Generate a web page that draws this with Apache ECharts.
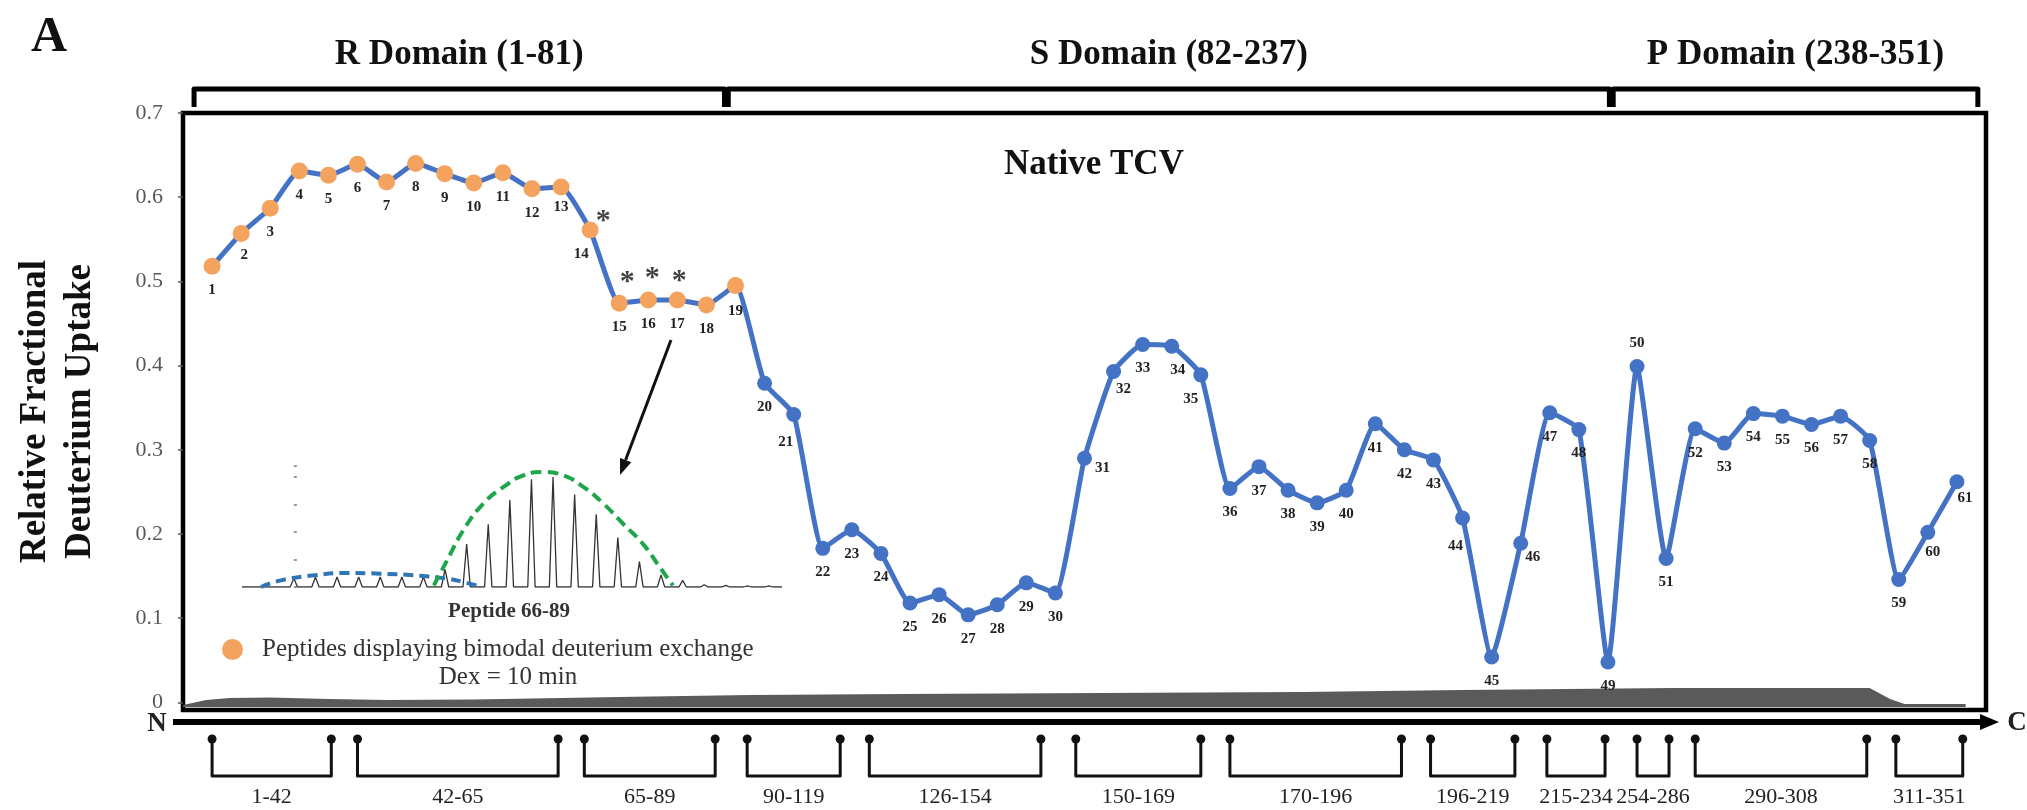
<!DOCTYPE html>
<html>
<head>
<meta charset="utf-8">
<script src="https://cdn.jsdelivr.net/npm/echarts@6/dist/echarts.min.js"></script>
<style>
  html, body { margin: 0; padding: 0; background: #fff; }
  #chart { width: 2027px; height: 810px; }
</style>
</head>
<body>
<div id="chart"></div>
<script>
// Peptide numbers along the sequence (N -> C)
const peptideIds = [1, 2, 3, 4, 5, 6, 7, 8, 9, 10, 11, 12, 13, 14, 15, 16, 17, 18, 19, 20,
  21, 22, 23, 24, 25, 26, 27, 28, 29, 30, 31, 32, 33, 34, 35, 36, 37, 38, 39, 40,
  41, 42, 43, 44, 45, 46, 47, 48, 49, 50, 51, 52, 53, 54, 55, 56, 57, 58, 59, 60, 61];

// Relative fractional deuterium uptake, Dex = 10 min
const uptake = [0.518, 0.557, 0.587, 0.631, 0.626, 0.639, 0.618, 0.640, 0.628, 0.617,
  0.629, 0.610, 0.612, 0.561, 0.474, 0.478, 0.478, 0.472, 0.495, 0.379,
  0.342, 0.183, 0.205, 0.177, 0.118, 0.128, 0.104, 0.116, 0.142, 0.130,
  0.290, 0.393, 0.425, 0.423, 0.389, 0.254, 0.280, 0.252, 0.237, 0.252,
  0.331, 0.300, 0.288, 0.219, 0.054, 0.189, 0.344, 0.324, 0.048, 0.399,
  0.171, 0.325, 0.308, 0.343, 0.340, 0.330, 0.340, 0.311, 0.146, 0.202, 0.262];

// Peptides with bimodal exchange, and those flagged with an asterisk
const bimodalIds = [1, 2, 3, 4, 5, 6, 7, 8, 9, 10, 11, 12, 13, 14, 15, 16, 17, 18, 19];
const flaggedIds = [14, 15, 16, 17];

const yTicks = [0, 0.1, 0.2, 0.3, 0.4, 0.5, 0.6, 0.7];

// Capsid domains, spans given on the peptide axis
const domainNames = ['R Domain (1-81)', 'S Domain (82-237)', 'P Domain (238-351)'];
const domainFrom = [0.38, 18.75, 49.18];
const domainTo = [18.62, 49.05, 61.72];

// Sequence fragments covered by the peptides, spans on the peptide axis
const fragmentNames = ['1-42', '42-65', '65-89', '90-119', '126-154', '150-169',
  '170-196', '196-219', '215-234', '254-286', '290-308', '311-351'];
const fragmentFrom = [1.0, 6.0, 13.8, 19.4, 23.6, 30.7, 36.0, 42.9, 46.9, 50.0, 52.0, 58.9];
const fragmentTo = [5.1, 12.9, 18.3, 22.6, 29.5, 35.0, 41.9, 45.8, 48.9, 51.1, 57.9, 61.2];

// Sequence coverage profile drawn along the bottom of the plot
const coveragePos = [0.0, 0.8, 1.6, 3.0, 5.0, 7.0, 10.0, 13.0, 15.0, 19.5, 24.7, 31.6,
  38.5, 44.0, 51.2, 58.0, 58.7, 59.2, 61.3];
const coverageDepth = [2, 7, 9, 9.5, 8, 7, 7.5, 9, 10, 12, 13, 14, 15, 17, 19, 19, 8, 3, 3];

// Isotopic distribution of peptide 66-89 (relative intensity, %)
const isotopePeaks = [8, 9, 9, 9, 9, 9, 9, 16, 39, 57, 79, 98, 100, 84, 66, 45, 23, 11, 6, 2, 1.5, 1, 1];
// Low-mass (slow exchanging) and high-mass (fast exchanging) envelopes
const lowEnvelopePos = [-1.52, -0.6, 0.94, 2.48, 4.01, 5.55, 7.09, 7.86, 8.71];
const lowEnvelopeVal = [0, 6, 10.6, 12.7, 12.1, 10.6, 7.6, 4.5, 0];
const highEnvelopePos = [6.48, 7.09, 7.86, 8.78, 9.71, 10.63, 11.55, 12.47, 13.4, 14.32, 15.24, 16.17, 16.94, 17.55];
const highEnvelopeVal = [1.5, 24, 52, 76, 91, 101.5, 104.5, 101.5, 91, 76, 57.5, 39, 18, 1.5];

const FONT = '"Liberation Serif", "Times New Roman", serif';
const BLUE = '#4472C4';
const ORANGE = '#F4A35E';

// label placement tweaks for crowded points
const labelNudge = {
  2: [3, -2], 13: [0, -4], 14: [-9, 0], 19: [0, 2], 21: [-8, 4], 31: [18, -14], 32: [10, -6],
  34: [6, 0], 35: [-10, 0], 44: [-7, 4], 46: [12, -10], 60: [5, -4], 61: [8, -8]
};
const asteriskNudge = { 14: [13, -9], 15: [8, -21], 16: [4, -22], 17: [2, -19] };

const lineData = peptideIds.map((id, i) => {
  const item = { value: [id, uptake[i]] };
  if (id === 50) item.label = { position: 'top', distance: 8 };
  else if (labelNudge[id]) item.label = { offset: labelNudge[id] };
  return item;
});

const spectrum = [[-2.4, 0]];
isotopePeaks.forEach((h, k) => { spectrum.push([k - 0.17, 0], [k, h], [k + 0.17, 0]); });
spectrum.push([22.6, 0]);

const chart = echarts.init(document.getElementById('chart'));

const option = {
  backgroundColor: '#fff',
  animation: false,
  grid: [
    { left: 183, right: 41, top: 113, bottom: 100, show: true, borderColor: '#000', borderWidth: 4.5, backgroundColor: 'transparent' },
    { left: 183, right: 41, top: 686, bottom: 103 },
    { left: 242, right: 1245, top: 466, bottom: 223 }
  ],
  legend: {
    data: ['Peptides displaying bimodal deuterium exchange'],
    left: 217, top: 632,
    icon: 'circle', itemWidth: 21, itemHeight: 21,
    selectedMode: false,
    textStyle: { fontFamily: FONT, fontSize: 25, color: '#333', padding: [0, 0, 0, 14] }
  },
  xAxis: [
    { gridIndex: 0, type: 'value', min: 0, max: 62, show: false },
    { gridIndex: 1, type: 'value', min: 0, max: 62, show: false },
    { gridIndex: 2, type: 'value', min: -2.4, max: 22.6, show: false }
  ],
  yAxis: [
    {
      gridIndex: 0, type: 'value', min: -0.009, max: 0.7,
      name: 'Relative Fractional\nDeuterium Uptake',
      nameLocation: 'middle', nameRotate: 90, nameGap: 80,
      nameTextStyle: { fontFamily: FONT, fontWeight: 'bold', fontSize: 37, lineHeight: 45, color: '#111' },
      axisLine: { show: false },
      splitLine: { show: false },
      axisTick: { show: true, length: 5, customValues: yTicks, lineStyle: { color: '#555', width: 1.5 } },
      axisLabel: {
        customValues: yTicks, margin: 20,
        formatter: v => (v === 0 ? '0' : v.toFixed(1)),
        fontFamily: FONT, fontSize: 22, color: '#595959'
      }
    },
    { gridIndex: 1, type: 'value', min: 0, max: 21, show: false },
    {
      gridIndex: 2, type: 'value', min: 0, max: 110, interval: 25,
      axisLine: { show: false }, axisLabel: { show: false }, splitLine: { show: false },
      axisTick: { show: true, inside: true, length: 3, lineStyle: { color: '#999', width: 2 } }
    }
  ],
  series: [
    {
      name: 'Sequence coverage', type: 'line', xAxisIndex: 1, yAxisIndex: 1,
      data: coveragePos.map((x, i) => [x, coverageDepth[i]]),
      symbol: 'none', lineStyle: { width: 0 }, areaStyle: { color: '#5a5a5a', opacity: 1 },
      silent: true, z: 1
    },
    {
      name: 'Native TCV', type: 'line', xAxisIndex: 0, yAxisIndex: 0,
      data: lineData,
      smooth: 0.15,
      symbol: 'circle', symbolSize: 15,
      lineStyle: { color: BLUE, width: 5 },
      itemStyle: { color: BLUE },
      label: {
        show: true, position: 'bottom', distance: 9,
        formatter: p => p.value[0],
        fontFamily: FONT, fontWeight: 'bold', fontSize: 15, color: '#222'
      },
      z: 3
    },
    {
      name: 'Peptides displaying bimodal deuterium exchange', type: 'scatter',
      xAxisIndex: 0, yAxisIndex: 0,
      data: bimodalIds.map(id => [id, uptake[id - 1]]),
      symbolSize: 17, itemStyle: { color: ORANGE, opacity: 1 },
      z: 4
    },
    {
      name: 'Flagged', type: 'scatter', xAxisIndex: 0, yAxisIndex: 0,
      data: flaggedIds.map(id => ({ value: [id, uptake[id - 1]], label: { offset: asteriskNudge[id] } })),
      symbolSize: 0.1, itemStyle: { color: 'rgba(0,0,0,0)' },
      label: { show: true, position: 'inside', formatter: '*', fontFamily: FONT, fontWeight: 'bold', fontSize: 30, color: '#111' },
      silent: true, z: 5
    },
    {
      name: 'Domains', type: 'custom', xAxisIndex: 0, yAxisIndex: 0, clip: false, silent: true,
      data: domainNames.map((n, i) => [domainFrom[i], domainTo[i], i]),
      renderItem: (params, api) => {
        const i = api.value(2);
        const x0 = api.coord([api.value(0), 0.7])[0];
        const x1 = api.coord([api.value(1), 0.7])[0];
        const top = api.coord([0, 0.7])[1];
        const yBar = top - 24, yFoot = top - 6;
        return {
          type: 'group',
          children: [
            { type: 'polyline', shape: { points: [[x0, yFoot], [x0, yBar], [x1, yBar], [x1, yFoot]] },
              style: { stroke: '#000', lineWidth: 5, fill: null, lineJoin: 'round' } },
            { type: 'text', x: (x0 + x1) / 2, y: top - 58,
              style: { text: domainNames[i], fontFamily: FONT, fontWeight: 'bold', fontSize: 35,
                fill: '#111', align: 'center', verticalAlign: 'middle' } }
          ]
        };
      }
    },
    {
      name: 'Fragments', type: 'custom', xAxisIndex: 0, yAxisIndex: 0, clip: false, silent: true,
      data: fragmentNames.map((n, i) => [fragmentFrom[i], fragmentTo[i], i]),
      renderItem: (params, api) => {
        const i = api.value(2);
        const x0 = api.coord([api.value(0), -0.009])[0];
        const x1 = api.coord([api.value(1), -0.009])[0];
        const base = api.coord([0, -0.009])[1];
        const yDot = base + 29, yLow = base + 66, yText = base + 87;
        return {
          type: 'group',
          children: [
            { type: 'polyline', shape: { points: [[x0, yDot], [x0, yLow], [x1, yLow], [x1, yDot]] },
              style: { stroke: '#111', lineWidth: 3, fill: null, lineJoin: 'round' } },
            { type: 'circle', shape: { cx: x0, cy: yDot, r: 4.5 }, style: { fill: '#111' } },
            { type: 'circle', shape: { cx: x1, cy: yDot, r: 4.5 }, style: { fill: '#111' } },
            { type: 'text', x: (x0 + x1) / 2, y: yText,
              style: { text: fragmentNames[i], fontFamily: FONT, fontSize: 22, fill: '#222',
                align: 'center', verticalAlign: 'middle' } }
          ]
        };
      }
    },
    {
      name: 'Peptide 66-89', type: 'line', xAxisIndex: 2, yAxisIndex: 2,
      data: spectrum, symbol: 'none',
      lineStyle: { color: '#333', width: 1.3 }, silent: true, z: 2
    },
    {
      name: 'Low-mass envelope', type: 'line', xAxisIndex: 2, yAxisIndex: 2,
      data: lowEnvelopePos.map((x, i) => [x, lowEnvelopeVal[i]]),
      smooth: true, symbol: 'none',
      lineStyle: { color: '#2E75B6', width: 4, type: [10, 6] }, silent: true, z: 3
    },
    {
      name: 'High-mass envelope', type: 'line', xAxisIndex: 2, yAxisIndex: 2,
      data: highEnvelopePos.map((x, i) => [x, highEnvelopeVal[i]]),
      smooth: true, symbol: 'none',
      lineStyle: { color: '#1FA64B', width: 4, type: [11, 6] }, silent: true, z: 3
    }
  ],
  graphic: [
    { type: 'text', x: 49, y: 38, style: { text: 'A', fontFamily: FONT, fontWeight: 'bold', fontSize: 50, fill: '#111', align: 'center', verticalAlign: 'middle' } },
    { type: 'text', x: 1094, y: 165, style: { text: 'Native TCV', fontFamily: FONT, fontWeight: 'bold', fontSize: 35, fill: '#111', align: 'center', verticalAlign: 'middle' } },
    { type: 'text', x: 509, y: 612, style: { text: 'Peptide 66-89', fontFamily: FONT, fontWeight: 'bold', fontSize: 21, fill: '#333', align: 'center', verticalAlign: 'middle' } },
    { type: 'text', x: 508, y: 677, style: { text: 'Dex = 10 min', fontFamily: FONT, fontSize: 25, fill: '#333', align: 'center', verticalAlign: 'middle' } },
    // N -> C sequence arrow
    { type: 'line', shape: { x1: 173, y1: 722, x2: 1984, y2: 722 }, style: { stroke: '#000', lineWidth: 6 } },
    { type: 'polygon', shape: { points: [[1999, 722], [1980, 714], [1980, 730]] }, style: { fill: '#000' } },
    { type: 'text', x: 157, y: 724, style: { text: 'N', fontFamily: FONT, fontWeight: 'bold', fontSize: 27, fill: '#222', align: 'center', verticalAlign: 'middle' } },
    { type: 'text', x: 2017, y: 723, style: { text: 'C', fontFamily: FONT, fontWeight: 'bold', fontSize: 27, fill: '#222', align: 'center', verticalAlign: 'middle' } },
    // pointer from peptide 17 to its isotope pattern
    { type: 'line', shape: { x1: 671, y1: 340, x2: 625.6, y2: 460 }, style: { stroke: '#111', lineWidth: 3 } },
    { type: 'polygon', shape: { points: [[620, 475], [631.3, 462.2], [620, 457.9]] }, style: { fill: '#111' } }
  ]
};

chart.setOption(option);
</script>
</body>
</html>
